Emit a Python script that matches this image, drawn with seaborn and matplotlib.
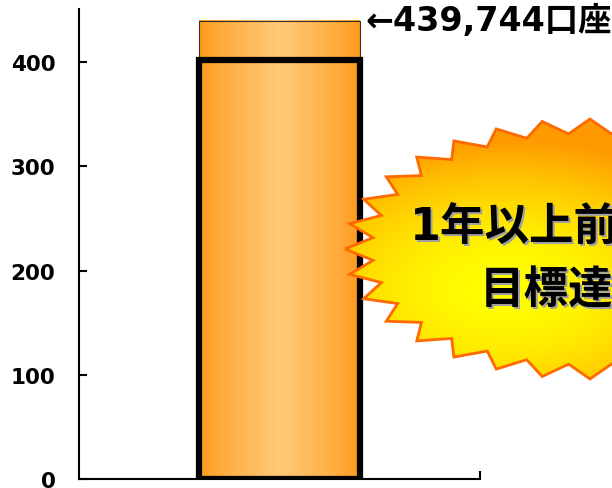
import numpy as np
import pandas as pd
import seaborn as sns
from matplotlib import pyplot as plt
from matplotlib.patches import Polygon

# values in thousand accounts
categories = ['実績']
accounts = [439.744]
target = [402]
yticks = [0, 100, 200, 300, 400]
bar_label = '←439,744口座'
burst_lines = ['1年以上前倒しで', '目標達成！']

sns.set_style('white')
plt.rcParams['font.family'] = ['DejaVu Sans', 'Noto Sans CJK JP']
plt.rcParams['text.color'] = 'black'
plt.rcParams['ytick.color'] = 'black'

fig = plt.figure(figsize=(6.12, 4.89), dpi=100)

### main chart
ax = fig.add_axes([79 / 612, 9 / 489, 401 / 612, 470 / 489], zorder=1)
ax.patch.set_alpha(0)
df = pd.DataFrame({'cat': categories, 'accounts': accounts, 'target': target})

sns.barplot(data=df, x='cat', y='accounts', width=0.4, color='#FFB347', ax=ax)
sns.barplot(data=df, x='cat', y='target', width=0.4, color='black', ax=ax)
bar, box = ax.patches[0], ax.patches[1]

# horizontal gradient inside the bar
x0, w, h = bar.get_x(), bar.get_width(), bar.get_height()
t = np.linspace(0, 1, 200)
s = (1 - np.abs(2 * t - 1)) ** 0.8
edge = np.array([1.0, 0.6, 0.1])
center = np.array([1.0, 0.79, 0.47])
grad = edge + (center - edge) * s[:, None]
ax.imshow(grad[None, :, :], extent=[x0, x0 + w, 0, h], aspect='auto', zorder=2.5)
bar.set_facecolor('none')
bar.set_edgecolor('#333333')
bar.set_linewidth(0.8)
bar.set_zorder(3)

box.set_facecolor('none')
box.set_edgecolor('black')
box.set_linewidth(4.5)
box.set_joinstyle('miter')
box.set_zorder(4)

ax.annotate(bar_label, xy=(x0 + w, accounts[0]), xytext=(4, 0), textcoords='offset points',
            ha='left', va='center', fontsize=24, fontweight='bold', color='black',
            annotation_clip=False)

ax.set_xlim(-0.5, 0.5)
ax.set_ylim(0, 451)
ax.set_yticks(yticks)
ax.set_xticks([0.5])
ax.set_xticklabels([''])
ax.tick_params(axis='y', direction='in', length=6, width=1.5, labelsize=15.5, pad=17,
               left=True, colors='black')
ax.tick_params(axis='x', direction='in', length=6, width=1.5, bottom=True, colors='black')
for lbl in ax.get_yticklabels():
    lbl.set_fontweight('bold')
ax.set_xlabel('')
ax.set_ylabel('')
for side in ['top', 'right']:
    ax.spines[side].set_visible(False)
for side in ['left', 'bottom']:
    ax.spines[side].set_color('black')
    ax.spines[side].set_linewidth(1.5)

### starburst on top (pixel coordinates)
bg = fig.add_axes([0, 0, 1, 1], zorder=2)
cx, cy, rx, ry = 590, 250, 245, 130
n = 32
k = np.arange(2 * n)
ang = np.pi + k * np.pi / n
r = np.where(k % 2 == 0, 1.0, 0.89)
pts = np.column_stack([cx + rx * r * np.cos(ang), cy + ry * r * np.sin(ang)])

gx = np.linspace(cx - rx, cx + rx, 300)
gy = np.linspace(cy - ry, cy + ry, 200)
X, Y = np.meshgrid(gx, gy)
d = np.sqrt(((X - 505) / 260) ** 2 + ((Y - 290) / 150) ** 2)
d = np.clip(d, 0, 1) ** 1.8
yellow = np.array([1.0, 1.0, 0.0])
orange = np.array([1.0, 0.6, 0.0])
img = yellow + (orange - yellow) * d[..., None]
im = bg.imshow(img, extent=[cx - rx, cx + rx, cy + ry, cy - ry], origin='upper',
               aspect='auto', zorder=1)
star = Polygon(pts, closed=True, facecolor='none', edgecolor='#FF6A00', lw=2,
               joinstyle='miter', zorder=2)
bg.add_patch(star)
im.set_clip_path(star)

for (tx, ty), line in zip([(410, 227), (480, 291)], burst_lines):
    bg.text(tx + 2, ty + 2, line, fontsize=32, fontweight='bold', color='#a0a0a0',
            ha='left', va='center', family=['DejaVu Sans', 'Noto Sans CJK JP'], zorder=3)
    bg.text(tx, ty, line, fontsize=32, fontweight='bold', color='black',
            ha='left', va='center', family=['DejaVu Sans', 'Noto Sans CJK JP'], zorder=4)
bg.set_xlim(0, 612)
bg.set_ylim(489, 0)
bg.axis('off')

fig.savefig('out.png', dpi=100)
